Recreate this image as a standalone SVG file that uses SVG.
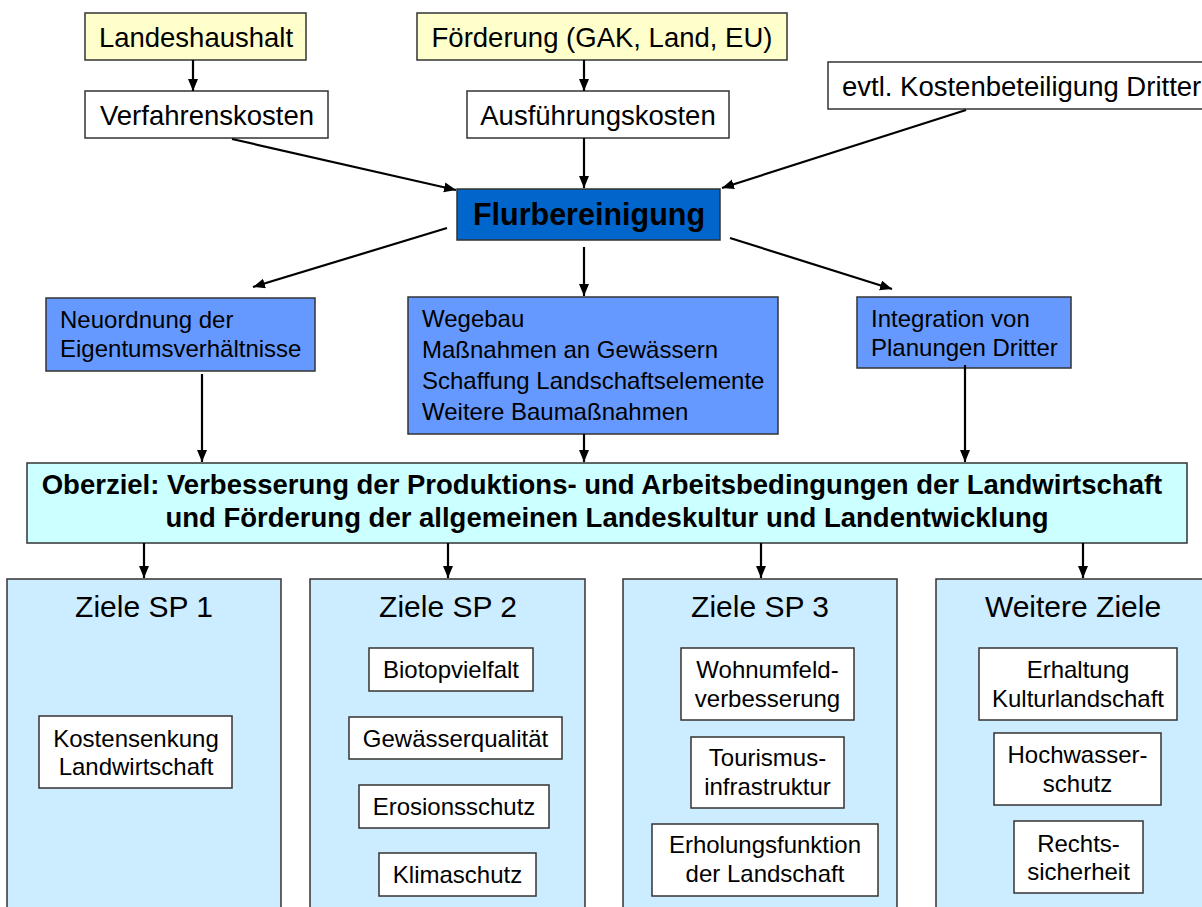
<svg xmlns="http://www.w3.org/2000/svg" width="1202" height="907" viewBox="0 0 1202 907">
<style>
  .bx { stroke: #333333; stroke-width: 1.5; }
  .yel { fill: #FFFFCC; }
  .wht { fill: #FFFFFF; }
  .blu { fill: #6699FF; }
  .dark { fill: #0066CC; }
  .cyan { fill: #CCFFFF; }
  .zl { fill: #CCECFF; }
  .t { font-family: "Liberation Sans", Arial, sans-serif; fill: #000; }
  .t27 { font-size: 27.5px; }
  .t24 { font-size: 24px; }
  .t30 { font-size: 30px; }
  .b { font-weight: bold; }
  .mid { text-anchor: middle; }
  .conn line { stroke: #000; stroke-width: 2.2; marker-end: url(#ah); }
</style>
<defs>
  <marker id="ah" markerUnits="userSpaceOnUse" markerWidth="13" markerHeight="11" refX="12" refY="5" orient="auto">
    <path d="M0,0 L12,5 L0,10 z" fill="#000"/>
  </marker>
</defs>
<rect x="0" y="0" width="1202" height="907" fill="#FFFFFF"/>

<g id="landeshaushalt">
  <rect class="bx yel" x="85" y="13" width="221" height="47"/>
  <text class="t t27 mid" x="196" y="47">Landeshaushalt</text>
</g>
<g id="verfahrenskosten">
  <rect class="bx wht" x="85" y="91" width="243" height="47"/>
  <text class="t t27 mid" x="207" y="125">Verfahrenskosten</text>
</g>
<g id="foerderung">
  <rect class="bx yel" x="417" y="13" width="370" height="47"/>
  <text class="t t27 mid" x="602" y="47">Förderung (GAK, Land, EU)</text>
</g>
<g id="ausfuehrungskosten">
  <rect class="bx wht" x="467" y="91" width="262" height="47"/>
  <text class="t t27 mid" x="598" y="125">Ausführungskosten</text>
</g>
<g id="kostenbeteiligung">
  <rect class="bx wht" x="828" y="62" width="385" height="47"/>
  <text class="t t27" x="842" y="96">evtl. Kostenbeteiligung Dritter</text>
</g>
<g id="flurbereinigung">
  <rect class="bx dark" x="457" y="189" width="263" height="51"/>
  <text class="t b mid" style="font-size:30.5px" x="589" y="225">Flurbereinigung</text>
</g>
<g id="neuordnung">
  <rect class="bx blu" x="46" y="298" width="269" height="73"/>
  <text class="t t24" x="60" y="328">Neuordnung der</text>
  <text class="t t24" x="60" y="357">Eigentumsverhältnisse</text>
</g>
<g id="massnahmen">
  <rect class="bx blu" x="408" y="297" width="370" height="137"/>
  <text class="t t24" x="422" y="327">Wegebau</text>
  <text class="t t24" x="422" y="358">Maßnahmen an Gewässern</text>
  <text class="t t24" x="422" y="389">Schaffung Landschaftselemente</text>
  <text class="t t24" x="422" y="420">Weitere Baumaßnahmen</text>
</g>
<g id="integration">
  <rect class="bx blu" x="857" y="297" width="214" height="71"/>
  <text class="t t24" x="871" y="327">Integration von</text>
  <text class="t t24" x="871" y="356">Planungen Dritter</text>
</g>
<g id="oberziel">
  <rect class="bx cyan" x="27" y="463" width="1160" height="80"/>
  <text class="t b mid" style="font-size:27.5px" x="602" y="494">Oberziel: Verbesserung der Produktions- und Arbeitsbedingungen der Landwirtschaft</text>
  <text class="t b mid" style="font-size:27.5px" x="607" y="527">und Förderung der allgemeinen Landeskultur und Landentwicklung</text>
</g>

<g id="ziele-sp1">
  <rect class="bx zl" x="7" y="579" width="274" height="350"/>
  <text class="t t30 mid" x="144" y="617">Ziele SP 1</text>
  <g id="kostensenkung">
    <rect class="bx wht" x="39" y="716" width="193" height="72"/>
    <text class="t t24 mid" x="136" y="747">Kostensenkung</text>
    <text class="t t24 mid" x="136" y="775">Landwirtschaft</text>
  </g>
</g>
<g id="ziele-sp2">
  <rect class="bx zl" x="310" y="579" width="275" height="350"/>
  <text class="t t30 mid" x="448" y="617">Ziele SP 2</text>
  <g id="biotopvielfalt">
    <rect class="bx wht" x="369" y="648" width="164" height="43"/>
    <text class="t t24 mid" x="451" y="678">Biotopvielfalt</text>
  </g>
  <g id="gewaesserqualitaet">
    <rect class="bx wht" x="349" y="717" width="213" height="42"/>
    <text class="t t24 mid" x="455.5" y="747">Gewässerqualität</text>
  </g>
  <g id="erosionsschutz">
    <rect class="bx wht" x="359" y="785" width="190" height="43"/>
    <text class="t t24 mid" x="454" y="815">Erosionsschutz</text>
  </g>
  <g id="klimaschutz">
    <rect class="bx wht" x="379" y="853" width="157" height="43"/>
    <text class="t t24 mid" x="457.5" y="883">Klimaschutz</text>
  </g>
</g>
<g id="ziele-sp3">
  <rect class="bx zl" x="623" y="579" width="274" height="350"/>
  <text class="t t30 mid" x="760" y="617">Ziele SP 3</text>
  <g id="wohnumfeld">
    <rect class="bx wht" x="681" y="648" width="173" height="72"/>
    <text class="t t24 mid" x="767.5" y="678">Wohnumfeld-</text>
    <text class="t t24 mid" x="767.5" y="707">verbesserung</text>
  </g>
  <g id="tourismus">
    <rect class="bx wht" x="691" y="737" width="153" height="71"/>
    <text class="t t24 mid" x="767.5" y="766">Tourismus-</text>
    <text class="t t24 mid" x="767.5" y="795">infrastruktur</text>
  </g>
  <g id="erholungsfunktion">
    <rect class="bx wht" x="652" y="824" width="226" height="72"/>
    <text class="t t24 mid" x="765" y="853">Erholungsfunktion</text>
    <text class="t t24 mid" x="765" y="882">der Landschaft</text>
  </g>
</g>
<g id="weitere-ziele">
  <rect class="bx zl" x="936" y="579" width="280" height="350"/>
  <text class="t t30 mid" x="1073" y="617">Weitere Ziele</text>
  <g id="erhaltung">
    <rect class="bx wht" x="979" y="648" width="198" height="72"/>
    <text class="t t24 mid" x="1078" y="678">Erhaltung</text>
    <text class="t t24 mid" x="1078" y="707">Kulturlandschaft</text>
  </g>
  <g id="hochwasserschutz">
    <rect class="bx wht" x="994" y="733" width="167" height="72"/>
    <text class="t t24 mid" x="1077.5" y="763">Hochwasser-</text>
    <text class="t t24 mid" x="1077.5" y="792">schutz</text>
  </g>
  <g id="rechtssicherheit">
    <rect class="bx wht" x="1014" y="821" width="129" height="72"/>
    <text class="t t24 mid" x="1078.5" y="852">Rechts-</text>
    <text class="t t24 mid" x="1078.5" y="880">sicherheit</text>
  </g>
</g>

<g id="connectors" class="conn">
  <line x1="193" y1="60" x2="193" y2="91"/>
  <line x1="584" y1="60" x2="584" y2="91"/>
  <line x1="584" y1="138" x2="584" y2="188"/>
  <line x1="232" y1="139" x2="456" y2="190"/>
  <line x1="966" y1="110" x2="722" y2="188"/>
  <line x1="447" y1="228" x2="253" y2="287"/>
  <line x1="584" y1="247" x2="584" y2="296"/>
  <line x1="730" y1="238" x2="892" y2="289"/>
  <line x1="202" y1="374" x2="202" y2="462"/>
  <line x1="584" y1="434" x2="584" y2="462"/>
  <line x1="965" y1="365" x2="965" y2="462"/>
  <line x1="144" y1="543" x2="144" y2="578"/>
  <line x1="448" y1="543" x2="448" y2="578"/>
  <line x1="761" y1="543" x2="761" y2="578"/>
  <line x1="1083" y1="543" x2="1083" y2="578"/>
</g>
</svg>
